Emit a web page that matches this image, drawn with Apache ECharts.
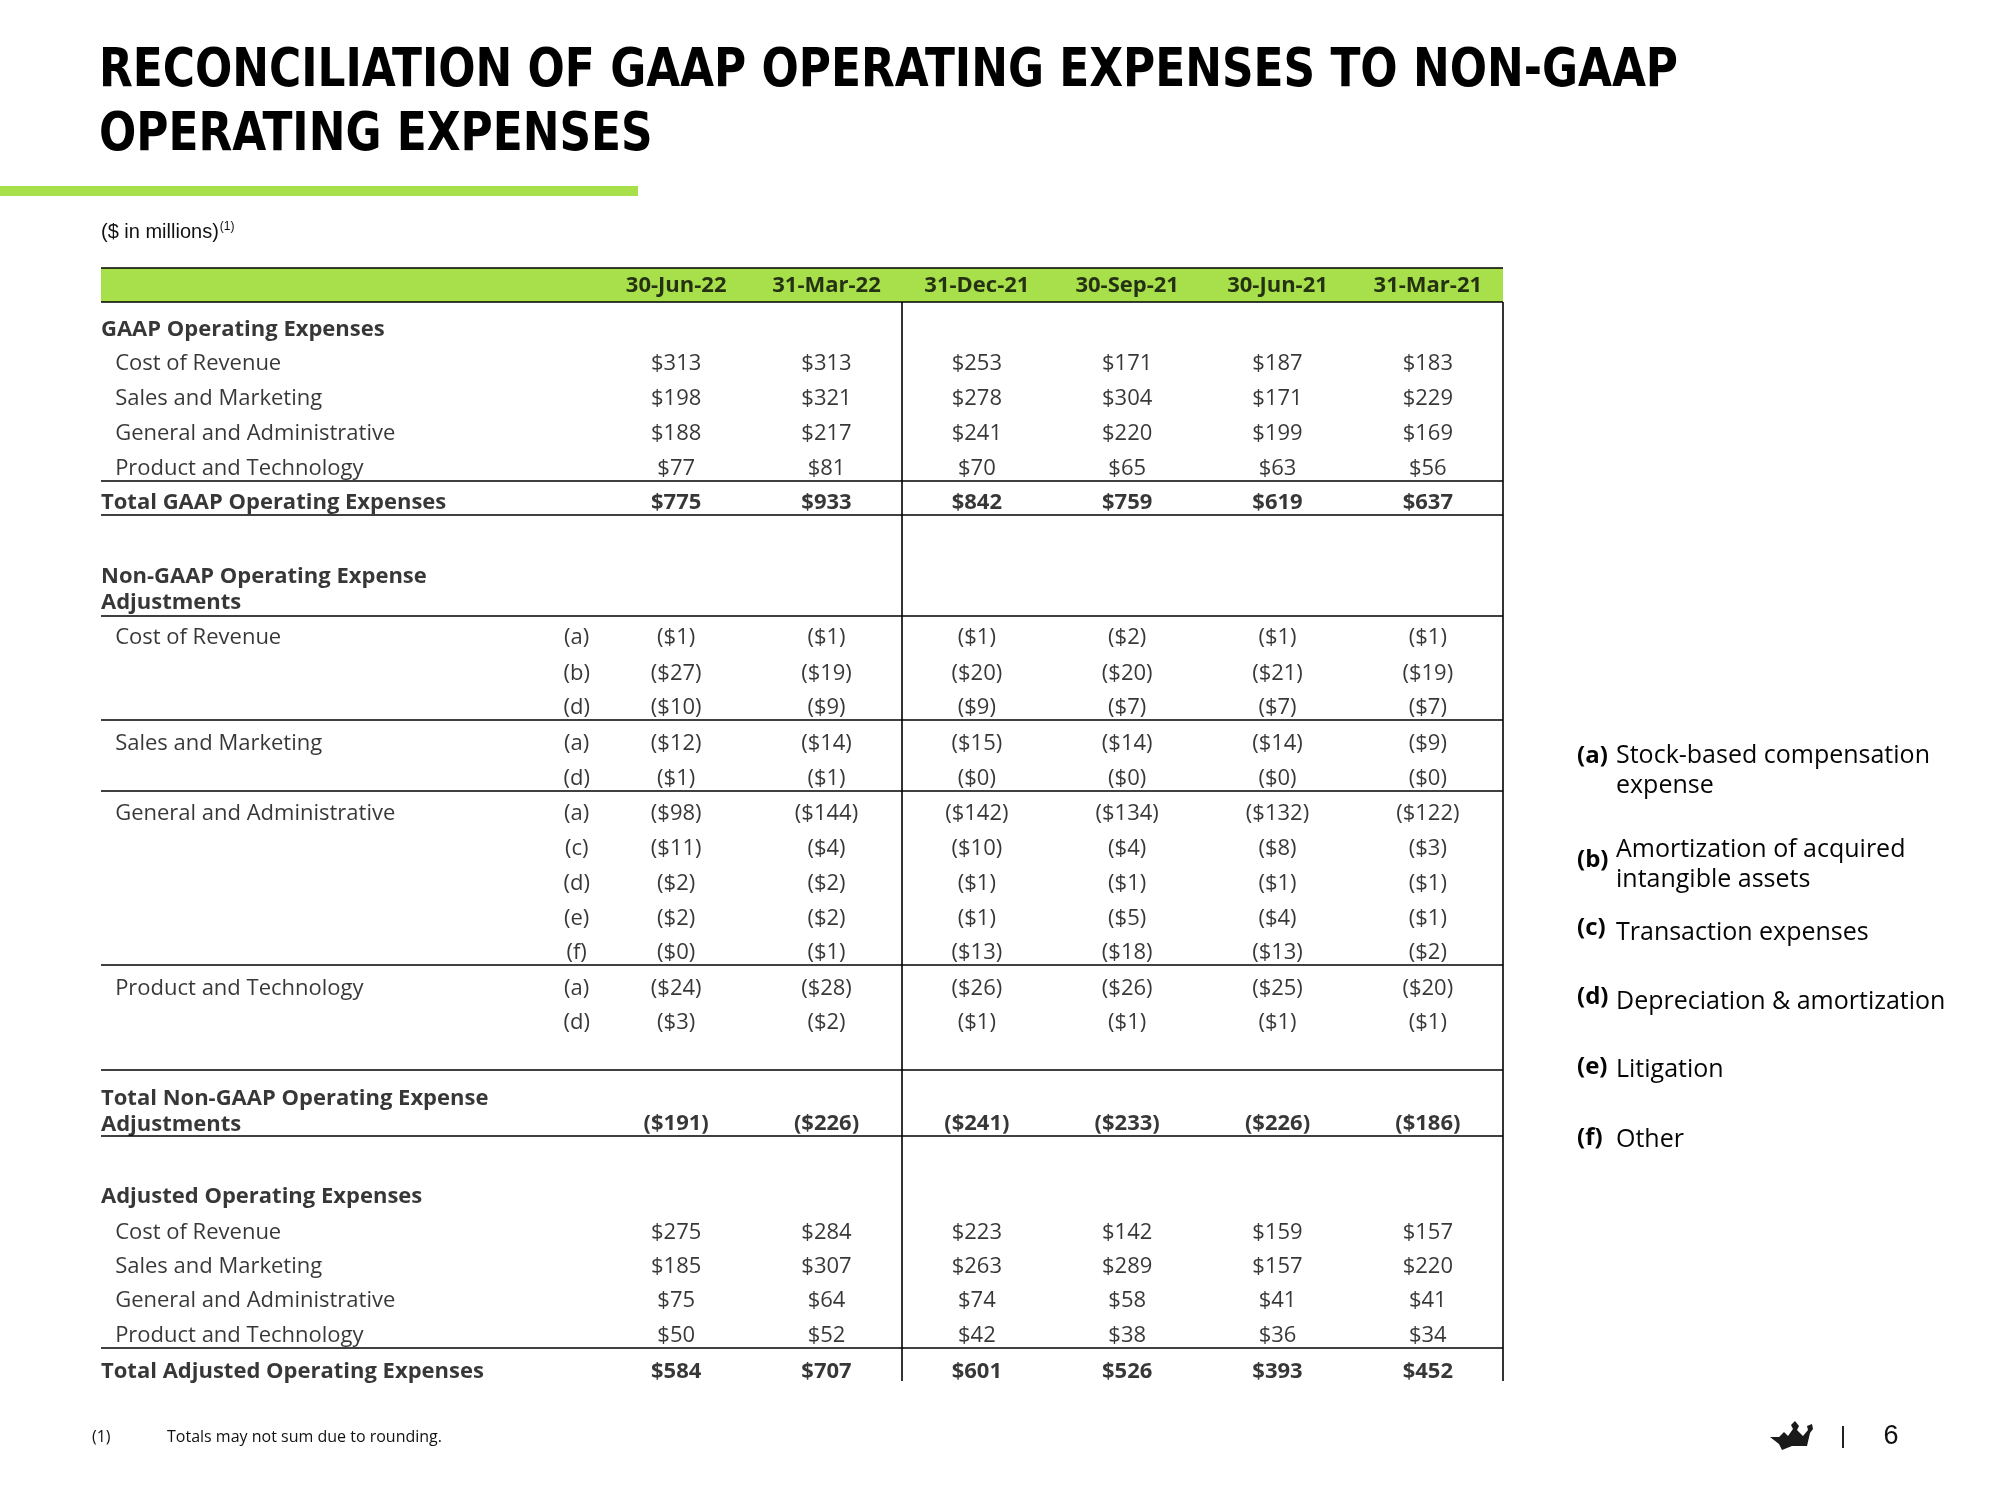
<!DOCTYPE html>
<html><head><meta charset="utf-8">
<script src="https://cdn.jsdelivr.net/npm/echarts@6/dist/echarts.min.js"></script>
<style>html,body{margin:0;padding:0;background:#fff}#c{width:2000px;height:1500px}</style>
</head><body><div id="c"></div>
<script>
// ---------- DATA ----------
const titleLines = ['RECONCILIATION OF GAAP OPERATING EXPENSES TO NON-GAAP', 'OPERATING EXPENSES'];
const subtitle = '($ in millions)';
const periods = ['30-Jun-22', '31-Mar-22', '31-Dec-21', '30-Sep-21', '30-Jun-21', '31-Mar-21'];

const gaapCostOfRevenue = [313, 313, 253, 171, 187, 183];
const gaapSalesMarketing = [198, 321, 278, 304, 171, 229];
const gaapGenAdmin = [188, 217, 241, 220, 199, 169];
const gaapProductTech = [77, 81, 70, 65, 63, 56];
const gaapTotal = [775, 933, 842, 759, 619, 637];

const adjCostRevA = [-1, -1, -1, -2, -1, -1];
const adjCostRevB = [-27, -19, -20, -20, -21, -19];
const adjCostRevD = [-10, -9, -9, -7, -7, -7];
const adjSalesMktA = [-12, -14, -15, -14, -14, -9];
const adjSalesMktD = [-1, -1, -0, -0, -0, -0];
const adjGenAdminA = [-98, -144, -142, -134, -132, -122];
const adjGenAdminC = [-11, -4, -10, -4, -8, -3];
const adjGenAdminD = [-2, -2, -1, -1, -1, -1];
const adjGenAdminE = [-2, -2, -1, -5, -4, -1];
const adjGenAdminF = [-0, -1, -13, -18, -13, -2];
const adjProdTechA = [-24, -28, -26, -26, -25, -20];
const adjProdTechD = [-3, -2, -1, -1, -1, -1];
const adjTotal = [-191, -226, -241, -233, -226, -186];

const adjustedCostOfRevenue = [275, 284, 223, 142, 159, 157];
const adjustedSalesMarketing = [185, 307, 263, 289, 157, 220];
const adjustedGenAdmin = [75, 64, 74, 58, 41, 41];
const adjustedProductTech = [50, 52, 42, 38, 36, 34];
const adjustedTotal = [584, 707, 601, 526, 393, 452];

const noteKeys = ['(a)', '(b)', '(c)', '(d)', '(e)', '(f)'];
const noteTexts = ['Stock-based compensation\nexpense', 'Amortization of acquired\nintangible assets', 'Transaction expenses', 'Depreciation & amortization', 'Litigation', 'Other'];
const footnote = ['(1)', 'Totals may not sum due to rounding.'];
const pageNumber = '6';

// ---------- LAYOUT (table units: x = period columns, y = rows) ----------
const X_MIN = -3.826, X_MAX = 5.5, X_INDENT = -3.732, X_NOTE = -0.662, X_DIVIDER = 1.5;
const Y_MIN = -1.72, Y_HEAD_BOTTOM = -0.742, Y_HEADER = -1.245, Y_MAX = 30.3;
const GREEN = '#a7e04a';
const INK = '#050505';
const FONT = '"Open Sans", "DejaVu Sans", sans-serif';

const table = [
  { label: 'GAAP Operating Expenses', kind: 'head', y: 0 },
  { label: 'Cost of Revenue', kind: 'item', y: 1, vals: gaapCostOfRevenue },
  { label: 'Sales and Marketing', kind: 'item', y: 2, vals: gaapSalesMarketing },
  { label: 'General and Administrative', kind: 'item', y: 3, vals: gaapGenAdmin },
  { label: 'Product and Technology', kind: 'item', y: 4, vals: gaapProductTech, rule: true },
  { label: 'Total GAAP Operating Expenses', kind: 'total', y: 5, vals: gaapTotal, rule: true },
  { label: 'Non-GAAP Operating Expense\nAdjustments', kind: 'head', y: 7.49, ruleAt: 8.29 },
  { label: 'Cost of Revenue', kind: 'item', note: '(a)', y: 8.88, vals: adjCostRevA },
  { note: '(b)', y: 9.91, vals: adjCostRevB },
  { note: '(d)', y: 10.9, vals: adjCostRevD, rule: true },
  { label: 'Sales and Marketing', kind: 'item', note: '(a)', y: 11.93, vals: adjSalesMktA },
  { note: '(d)', y: 12.92, vals: adjSalesMktD, rule: true },
  { label: 'General and Administrative', kind: 'item', note: '(a)', y: 13.94, vals: adjGenAdminA },
  { note: '(c)', y: 14.94, vals: adjGenAdminC },
  { note: '(d)', y: 15.96, vals: adjGenAdminD },
  { note: '(e)', y: 16.95, vals: adjGenAdminE },
  { note: '(f)', y: 17.94, vals: adjGenAdminF, rule: true },
  { label: 'Product and Technology', kind: 'item', note: '(a)', y: 18.97, vals: adjProdTechA },
  { note: '(d)', y: 19.96, vals: adjProdTechD, ruleAt: 21.36 },
  { label: 'Total Non-GAAP Operating Expense\nAdjustments', kind: 'total', y: 22.52, valsY: 22.86, vals: adjTotal, ruleAt: 23.23 },
  { label: 'Adjusted Operating Expenses', kind: 'head', y: 24.95 },
  { label: 'Cost of Revenue', kind: 'item', y: 25.98, vals: adjustedCostOfRevenue },
  { label: 'Sales and Marketing', kind: 'item', y: 26.97, vals: adjustedSalesMarketing },
  { label: 'General and Administrative', kind: 'item', y: 27.96, vals: adjustedGenAdmin },
  { label: 'Product and Technology', kind: 'item', y: 28.95, vals: adjustedProductTech, rule: true },
  { label: 'Total Adjusted Operating Expenses', kind: 'total', y: 29.98, vals: adjustedTotal }
];

function fmt(v) {
  const neg = v < 0 || Object.is(v, -0);
  return neg ? '($' + Math.abs(v) + ')' : '$' + v;
}

const leftRegular = [], leftBold = [], centerRegular = [], centerBold = [], rules = [];
periods.forEach((p, j) => centerBold.push({ name: p, value: [j, Y_HEADER] }));
table.forEach(r => {
  const bold = r.kind === 'head' || r.kind === 'total';
  if (r.label) (bold ? leftBold : leftRegular).push({ name: r.label, value: [r.kind === 'item' ? X_INDENT : X_MIN, r.y] });
  if (r.note) centerRegular.push({ name: r.note, value: [X_NOTE, r.y] });
  if (r.vals) r.vals.forEach((v, j) => (r.kind === 'total' ? centerBold : centerRegular).push({ name: fmt(v), value: [j, r.valsY != null ? r.valsY : r.y] }));
  if (r.rule) rules.push(r.y + 0.39);
  if (r.ruleAt != null) rules.push(r.ruleAt);
});

const lineData = [Y_MIN, Y_HEAD_BOTTOM].concat(rules).map(y => [{ coord: [X_MIN, y] }, { coord: [X_MAX, y] }]);
lineData.push([{ coord: [X_DIVIDER, Y_HEAD_BOTTOM] }, { coord: [X_DIVIDER, Y_MAX] }]);
lineData.push([{ coord: [X_MAX, Y_HEAD_BOTTOM] }, { coord: [X_MAX, Y_MAX] }]);

function textSeries(name, data, bold, align) {
  return {
    name, type: 'scatter', data, symbolSize: 0, silent: true, z: 5,
    label: {
      show: true, formatter: '{b}', position: align === 'left' ? 'right' : 'inside', distance: 0,
      offset: [0, 1.5],
      align, verticalAlign: 'middle', color: INK, fontFamily: FONT,
      fontSize: 22, fontWeight: bold ? 'bold' : 'normal', lineHeight: 26
    }
  };
}

// title scale so that the condensed font spans the same width as in the reference
const mctx = document.createElement('canvas').getContext('2d');
mctx.font = 'bold 52px "DejaVu Sans Condensed"';
const titleScaleX = 1579 / mctx.measureText(titleLines[0]).width;

const notePos = [[756, 756], [860, 850], [928, 933], [997, 1002], [1067, 1070], [1138, 1140]];

const graphic = [
  { type: 'rect', shape: { x: 0, y: 186, width: 638, height: 10 }, style: { fill: GREEN }, silent: true },
  ...titleLines.map((t, i) => ({
    type: 'text', x: 99, y: i === 0 ? 72 : 136, scaleX: titleScaleX, scaleY: 1.04, originX: 0, originY: 0,
    style: { text: t, x: 0, y: 0, fill: '#000', font: 'bold 52px "DejaVu Sans Condensed", "DejaVu Sans", sans-serif', textAlign: 'left', textVerticalAlign: 'middle' }
  })),
  { type: 'text', x: 101, y: 232, style: { text: '{a|' + subtitle + '}{s|(1)}', x: 0, y: 0, textAlign: 'left', textVerticalAlign: 'middle',
      rich: { a: { fontFamily: '"Liberation Sans", Arial, sans-serif', fontSize: 20, fill: '#111', color: '#111' },
              s: { fontFamily: '"Liberation Sans", Arial, sans-serif', fontSize: 12, fill: '#111', color: '#111', verticalAlign: 'top', padding: [0, 0, 10, 1] } } } },
  ...noteKeys.map((k, i) => ({ type: 'text', x: 1577, y: notePos[i][0], style: { text: k, x: 0, y: 0, textAlign: 'left', textVerticalAlign: 'middle', font: 'bold 24px ' + FONT, fill: INK } })),
  ...noteTexts.map((t, i) => ({ type: 'text', x: 1616, y: notePos[i][1], style: { text: t, x: 0, y: -15, textAlign: 'left', textVerticalAlign: 'top', font: '25px ' + FONT, fill: INK, lineHeight: 30 } })),
  { type: 'text', x: 92, y: 1437, style: { text: footnote[0], x: 0, y: 0, textAlign: 'left', textVerticalAlign: 'middle', font: '16px ' + FONT, fill: '#111' } },
  { type: 'text', x: 167, y: 1437, style: { text: footnote[1], x: 0, y: 0, textAlign: 'left', textVerticalAlign: 'middle', font: '16px ' + FONT, fill: '#111' } },
  { type: 'polygon', silent: true, shape: { points: [[1770, 1437], [1779, 1437], [1784, 1432], [1788, 1436], [1793, 1429], [1791, 1425], [1795, 1421], [1799, 1426], [1797, 1430], [1803, 1436], [1808, 1430], [1807, 1426], [1812, 1424], [1813, 1429], [1810, 1433], [1807, 1446], [1792, 1446], [1782, 1450], [1779, 1444]] }, style: { fill: '#1a1a1a' } },
  { type: 'rect', shape: { x: 1842, y: 1426, width: 2, height: 22 }, style: { fill: '#222' }, silent: true },
  { type: 'text', x: 1891, y: 1437, style: { text: pageNumber, x: 0, y: 0, textAlign: 'center', textVerticalAlign: 'middle', font: '27px "Liberation Sans", Arial, sans-serif', fill: '#111' } }
];

const chart = echarts.init(document.getElementById('c'), null, { renderer: 'canvas' });
chart.setOption({
  animation: false,
  backgroundColor: '#fff',
  grid: { left: 101, right: 497, top: 268, bottom: 119, containLabel: false },
  xAxis: { type: 'value', min: X_MIN, max: X_MAX, show: false },
  yAxis: { type: 'value', min: Y_MIN, max: Y_MAX, inverse: true, show: false },
  graphic,
  series: [
    {
      name: 'rules', type: 'scatter', data: [], silent: true, z: 1,
      markArea: { silent: true, itemStyle: { color: GREEN }, label: { show: false },
        data: [[{ coord: [X_MIN, Y_MIN] }, { coord: [X_MAX, Y_HEAD_BOTTOM] }]] },
      markLine: { silent: true, symbol: ['none', 'none'], label: { show: false }, animation: false,
        lineStyle: { color: '#000', width: 1.6, type: 'solid' }, data: lineData }
    },
    textSeries('labels', leftRegular, false, 'left'),
    textSeries('labelsBold', leftBold, true, 'left'),
    textSeries('values', centerRegular, false, 'center'),
    textSeries('valuesBold', centerBold, true, 'center')
  ]
});
</script>
</body></html>
